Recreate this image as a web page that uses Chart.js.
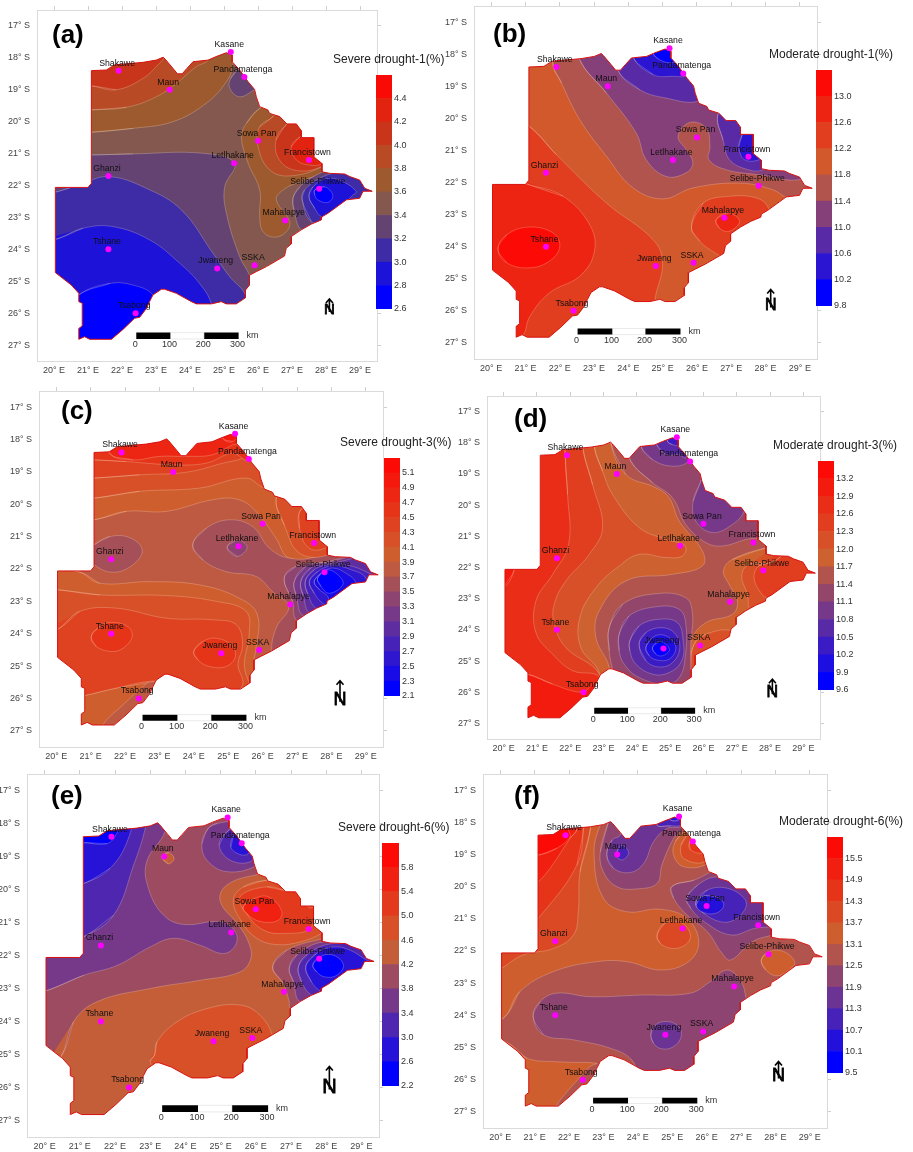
<!DOCTYPE html>
<html><head><meta charset="utf-8">
<script src="https://cdn.jsdelivr.net/npm/chart.js@4/dist/chart.umd.min.js"></script>
<style>html,body{margin:0;padding:0;background:#fff;width:913px;height:1152px;overflow:hidden}canvas{position:absolute;display:block;filter:blur(.3px)}</style>
</head><body>
<script>
const lonTicks=[20,21,22,23,24,25,26,27,28,29];
const latTicks=[-17,-18,-19,-20,-21,-22,-23,-24,-25,-26,-27];
const stationNames=['Kasane','Shakawe','Pandamatenga','Maun','Sowa Pan','Letlhakane','Francistown','Ghanzi','Selibe-Phikwe','Mahalapye','Tshane','Jwaneng','SSKA','Tsabong'];
const stationLon=[25.2,21.9,25.6,23.4,26.0,25.3,27.5,21.6,27.8,26.8,21.6,24.8,25.9,22.4];
const stationLat=[-17.82,-18.4,-18.6,-19.0,-20.6,-21.3,-21.2,-21.7,-22.1,-23.1,-24.0,-24.6,-24.5,-26.0];
const outline=[[21.10,-18.40],[21.54,-18.38],[21.78,-18.22],[22.62,-18.14],[23.01,-18.07],[23.21,-17.98],[23.27,-18.04],[23.50,-18.33],[23.63,-18.50],[23.77,-18.50],[23.91,-18.33],[24.09,-18.12],[24.53,-18.07],[24.77,-17.96],[25.07,-17.84],[25.24,-17.91],[25.24,-18.12],[25.46,-18.38],[25.71,-18.75],[25.90,-18.99],[25.95,-19.22],[26.05,-19.53],[26.29,-19.63],[26.34,-19.74],[26.64,-19.84],[26.85,-20.07],[27.13,-20.07],[27.27,-20.28],[27.27,-20.50],[27.64,-20.50],[27.64,-21.10],[27.88,-21.31],[27.88,-21.57],[28.11,-21.62],[28.55,-21.64],[28.70,-21.72],[28.99,-21.83],[29.14,-22.09],[29.36,-22.18],[29.09,-22.18],[28.99,-22.40],[28.60,-22.45],[28.06,-22.87],[27.88,-22.98],[27.86,-23.08],[27.57,-23.21],[27.27,-23.39],[26.98,-23.60],[26.98,-23.83],[26.83,-23.97],[26.78,-24.21],[26.25,-24.54],[25.95,-24.70],[25.75,-24.81],[25.75,-25.12],[25.63,-25.28],[25.63,-25.52],[25.36,-25.71],[25.07,-25.71],[24.92,-25.64],[24.63,-25.71],[24.19,-25.71],[24.04,-25.64],[23.60,-25.38],[23.25,-25.25],[23.16,-25.25],[22.91,-25.43],[22.81,-25.64],[22.72,-25.85],[22.52,-26.13],[22.37,-26.16],[22.03,-26.51],[21.69,-26.82],[21.05,-26.82],[20.90,-26.74],[20.73,-26.82],[20.73,-26.48],[20.83,-26.40],[20.83,-25.69],[20.73,-25.64],[20.73,-25.38],[20.51,-25.12],[20.04,-24.73],[20.04,-22.06],[21.00,-22.06],[21.10,-21.93]];

const legendA=[2.6,2.8,3.0,3.2,3.4,3.6,3.8,4.0,4.2,4.4,4.6];
const legendB=[9.8,10.2,10.6,11.0,11.4,11.8,12.2,12.6,13.0,13.4];
const legendC=[2.1,2.3,2.5,2.7,2.9,3.1,3.3,3.5,3.7,3.9,4.1,4.3,4.5,4.7,4.9,5.1,5.3];
const legendD=[9.6,9.9,10.2,10.5,10.8,11.1,11.4,11.7,12.0,12.3,12.6,12.9,13.2,13.5];
const legendE=[2.2,2.6,3.0,3.4,3.8,4.2,4.6,5.0,5.4,5.8,6.2];
const legendF=[9.5,10.1,10.7,11.3,11.9,12.5,13.1,13.7,14.3,14.9,15.5,16.1];

const regionsA=[[3,[[21.1,-21.04],[22.32,-21.01],[24.38,-20.99],[25.31,-21.3],[25.02,-22.04],[25.07,-22.87],[25.46,-24.23],[25.75,-24.81],[25.85,-25.28],[25.4,-26.2],[19.8,-27],[19.8,-21.04]]],
[2,[[19.9,-22.25],[20.75,-21.98],[21.59,-21.72],[22.72,-22.09],[23.75,-22.77],[24.68,-24.13],[25.17,-24.86],[25.63,-25.43],[25.7,-26.2],[19.8,-27],[19.8,-22.25]]],
[1,[[20.04,-23.69],[20.85,-23.34],[21.74,-23.29],[22.82,-23.71],[23.7,-24.44],[24.28,-25.07],[24.63,-25.71],[24.7,-26.5],[19.8,-27.2],[19.7,-23.69]]],
[0,[[20.73,-25.43],[21.64,-25.07],[22.32,-25.12],[22.91,-25.43],[23.2,-26.2],[22.0,-27.2],[20.5,-27.2],[20.4,-26]]],
[5,[[21.1,-20.33],[22.32,-20.21],[23.5,-20.0],[24.48,-19.42],[25.07,-18.75],[25.26,-18.27],[25.24,-17.91],[25.3,-17.5],[20.8,-17.5],[20.8,-20.33]]],
[6,[[21.1,-19.63],[22.13,-19.55],[23.01,-19.22],[23.6,-18.8],[24.19,-18.27],[24.53,-18.07],[24.6,-17.5],[20.8,-17.5],[20.8,-19.63]]],
[7,[[21.1,-18.88],[21.83,-19.0],[22.62,-18.64],[23.1,-18.17],[23.25,-17.96],[23.3,-17.5],[20.8,-17.5],[20.8,-18.88]]],
[3,[[25.46,-18.33],[25.2,-18.64],[25.17,-18.95],[25.46,-19.22],[25.9,-19.0],[26.1,-18.9],[25.8,-18.2]]],
[5,[[26.05,-19.58],[25.66,-20.05],[25.51,-20.47],[25.71,-21.3],[26.05,-22.14],[26.05,-22.98],[26.15,-23.45],[26.49,-23.62],[26.83,-23.45],[26.93,-23.13],[26.54,-22.45],[26.74,-22.14],[27.23,-21.88],[27.88,-21.62],[28.3,-21.3],[27.8,-20],[26.6,-19.3]]],
[6,[[26.44,-19.84],[26.05,-20.16],[26.0,-20.78],[26.34,-21.51],[26.93,-21.7],[27.88,-21.41],[28.2,-21],[27.8,-19.9],[26.7,-19.5]]],
[7,[[26.85,-20.07],[26.53,-20.57],[26.63,-21.2],[27.13,-21.53],[27.88,-21.4],[28.2,-21],[27.8,-20],[27.2,-19.8]]],
[8,[[27.27,-20.45],[26.98,-20.78],[27.13,-21.2],[27.52,-21.36],[27.88,-21.3],[28.1,-20.8],[27.7,-20.2]]],
[3,[[27.03,-22.4],[27.08,-22.87],[27.27,-23.39],[27.8,-23.6],[29.5,-22.6],[29.5,-21.4],[28.2,-21.5],[27.72,-21.67],[27.23,-22.04]]],
[2,[[27.3,-22.45],[27.57,-23.13],[28.1,-23.1],[29.5,-22.6],[29.5,-21.5],[28.3,-21.6],[27.81,-21.78],[27.37,-22.14]]],
[1,[[27.5,-22.35],[27.67,-22.72],[27.88,-22.98],[28.2,-22.9],[28.79,-22.3],[28.89,-22.19],[28.5,-21.88],[28.06,-21.78],[27.62,-22.04]]],
[0,[[27.67,-22.14],[27.96,-22.04],[28.2,-22.3],[28.06,-22.53],[27.76,-22.45],[27.67,-22.3]]]];

const regionsB=[[6,[[21.11,-20.25],[21.9,-21.13],[23.36,-22.64],[24.72,-23.78],[25.0,-24.5],[24.77,-25.7],[24.8,-26.5],[19.7,-27.2],[19.7,-20.25],[20.8,-20.2]]],
[7,[[20.98,-22.02],[22.1,-22.43],[22.9,-23.37],[23.0,-24.2],[22.58,-24.92],[21.7,-25.44],[21.13,-26.17],[20.93,-26.77],[20.5,-27.2],[19.6,-27],[19.7,-22],[20.8,-21.9]]],
[8,[[20.2,-24.07],[20.45,-23.63],[21.1,-23.39],[21.8,-23.57],[22.0,-24.0],[21.7,-24.45],[21.1,-24.66],[20.45,-24.5]]],
[4,[[21.8,-18.28],[22.05,-18.9],[22.58,-20.04],[23.36,-21.18],[24.14,-22.17],[25.01,-22.51],[25.88,-22.17],[27.24,-22.02],[28.2,-22.22],[28.7,-22.5],[29.5,-22.5],[29.5,-21.3],[28,-20],[26,-17.5],[22,-17.5]]],
[3,[[22.58,-18.17],[23.36,-19.21],[24.23,-20.46],[24.52,-21.29],[25.1,-21.81],[25.68,-21.7],[25.88,-21.39],[25.7,-21.0],[25.45,-20.56],[25.79,-20.13],[26.27,-20.3],[26.38,-20.87],[26.35,-21.29],[26.85,-21.6],[27.83,-21.76],[29.0,-21.91],[29.5,-21.5],[28,-19.8],[26.3,-17.5],[22.6,-17.5]]],
[2,[[23.7,-18.5],[24.33,-19.11],[25.1,-19.37],[26.03,-19.47],[26.5,-19],[26,-17.5],[23.7,-17.5]]],
[2,[[26.6,-19.94],[26.76,-20.67],[26.95,-21.29],[27.49,-21.6],[27.92,-21.6],[28.3,-21.2],[27.9,-20],[26.9,-19.6]]],
[1,[[24.14,-18.09],[24.72,-18.64],[25.3,-18.69],[25.74,-18.64],[26.2,-18],[25.5,-17.4],[24.2,-17.4]]],
[1,[[27.32,-20.51],[27.22,-20.87],[27.39,-21.29],[27.87,-21.27],[28.1,-21],[27.9,-20.3],[27.4,-20.2]]],
[0,[[24.72,-17.97],[24.9,-18.17],[25.3,-18.26],[25.5,-18],[25.2,-17.5],[24.7,-17.6]]],
[6,[[25.84,-23.37],[26.18,-22.64],[26.95,-22.43],[27.73,-22.48],[28.07,-22.76],[28.1,-23.3],[27,-24],[26.85,-24.35],[26.66,-24.28],[26.08,-23.83]]],
[7,[[26.56,-23.16],[26.9,-22.95],[27.24,-23.2],[26.95,-23.52],[26.65,-23.42]]]];

const regionsC=[[7,[[23.97,-21.25],[24.36,-20.74],[25.03,-20.48],[25.71,-20.69],[26.2,-21.36],[26.78,-21.66],[27.9,-21.56],[29.5,-21.3],[29.5,-22.4],[27.7,-24],[26.5,-25],[26.27,-24.6],[26.39,-23.83],[26.76,-23.16],[26.29,-22.7],[25.81,-22.23],[24.94,-22.08],[24.26,-21.72]]],
[7,[[21.11,-21.25],[21.55,-21.0],[22.13,-21.03],[22.5,-21.41],[22.23,-21.87],[21.65,-22.1],[21.11,-21.87],[20.9,-21.5]]],
[6,[[24.97,-21.33],[25.26,-21.1],[25.55,-21.33],[25.26,-21.61]]],
[9,[[21.11,-20.48],[22.03,-20.22],[23.2,-20.22],[24.55,-19.86],[25.32,-19.86],[25.85,-20.27],[26.39,-21.05],[26.78,-21.66],[27.9,-21.46],[28.4,-20.8],[28,-19.5],[26,-17.4],[20.8,-17.4],[20.8,-20.48]]],
[10,[[21.11,-19.81],[22.42,-19.6],[24.16,-19.5],[25.52,-19.19],[26.1,-19.5],[26.6,-19.2],[26,-17.4],[20.8,-17.4],[20.8,-19.81]]],
[11,[[21.11,-19.19],[22.42,-19.09],[23.78,-19.01],[24.84,-18.73],[25.52,-18.52],[26,-18],[25.5,-17.4],[20.8,-17.4],[20.8,-19.19]]],
[12,[[21.11,-18.63],[22.03,-18.68],[23.39,-18.78],[24.36,-18.73],[25.13,-18.42],[25.57,-18.63],[25.9,-18],[25.5,-17.4],[20.8,-17.4],[20.8,-18.63]]],
[13,[[21.55,-18.42],[22.23,-18.63],[23.0,-18.52],[23.78,-18.52],[24.55,-18.47],[25.13,-18.16],[25.32,-18.11],[25.5,-17.6],[21.5,-17.6]]],
[14,[[24.84,-17.96],[25.13,-18.06],[25.4,-17.6],[24.8,-17.6]]],
[10,[[26.39,-19.86],[26.63,-20.64],[27.07,-21.51],[27.9,-21.56],[28.3,-21],[27.8,-19.9],[26.7,-19.5]]],
[11,[[27.11,-20.17],[27.07,-20.74],[27.36,-21.36],[27.9,-21.31],[28.2,-20.8],[27.6,-20]]],
[6,[[26.63,-22.28],[26.97,-21.92],[27.89,-21.77],[29.5,-21.4],[29.5,-22.5],[27.5,-24],[26.97,-23.57],[26.87,-23.0]]],
[5,[[26.92,-22.39],[27.26,-21.92],[27.89,-21.79],[29.5,-21.5],[29.5,-22.4],[27.9,-23.6],[27.16,-23.42],[27.0,-22.9]]],
[4,[[27.11,-22.39],[27.4,-21.97],[28.03,-21.82],[29.5,-21.6],[29.5,-22.4],[28,-23.6],[27.36,-23.36],[27.2,-22.9]]],
[3,[[27.24,-22.39],[27.5,-22.02],[28.03,-21.85],[28.62,-21.92],[29.2,-22.18],[29.5,-22.3],[28.2,-23.5],[27.55,-23.21],[27.36,-22.9]]],
[2,[[27.36,-22.39],[27.6,-22.08],[28.03,-21.9],[28.52,-22.0],[29.0,-22.28],[29,-22.8],[28.2,-23.3],[27.74,-23.05],[27.5,-22.75]]],
[1,[[27.5,-22.39],[27.7,-22.13],[28.03,-21.97],[28.42,-22.13],[28.71,-22.44],[28.6,-23],[28,-23.2],[27.89,-22.84],[27.65,-22.64]]],
[0,[[27.6,-22.28],[27.89,-22.03],[28.23,-22.22],[28.33,-22.49],[27.94,-22.75],[27.7,-22.54]]],
[9,[[20.63,-22.08],[21.26,-22.44],[22.71,-22.39],[24.16,-22.49],[25.32,-22.9],[25.85,-23.42],[25.8,-24.55],[25.76,-24.81],[26.1,-25.7],[24,-26],[23.2,-25.5],[22.9,-25.37],[22.52,-25.64],[21.94,-26.2],[21.36,-26.81],[21.3,-27.2],[20.2,-27.2],[19.7,-25],[19.7,-22.08]]],
[10,[[20.02,-22.64],[21.26,-22.8],[23.2,-22.82],[24.65,-23.0],[25.52,-23.31],[25.61,-24.03],[25.47,-24.96],[25.63,-25.58],[25.8,-26],[24,-26],[23.1,-25.3],[22.86,-25.46],[21.74,-25.68],[20.82,-25.91],[20.3,-26],[19.7,-25],[19.7,-22.64]]],
[11,[[20.02,-23.88],[20.68,-23.31],[21.74,-23.21],[23.2,-23.52],[24.55,-23.57],[25.23,-23.72],[25.42,-24.34],[25.28,-24.96],[25.43,-25.48],[25.32,-25.73],[24.5,-26.2],[23.2,-25.6],[22.86,-25.46],[21.74,-25.68],[20.82,-25.91],[20.3,-26],[19.7,-25],[19.7,-23.88]]],
[12,[[21.02,-24.09],[21.26,-23.78],[21.6,-23.65],[22.08,-23.78],[22.21,-24.09],[21.94,-24.45],[21.6,-24.55],[21.16,-24.39]]],
[12,[[24.0,-24.55],[24.26,-24.24],[24.65,-24.14],[25.08,-24.34],[25.21,-24.7],[24.94,-25.01],[24.45,-25.01],[24.12,-24.81]]]];

const regionsD=[[11,[[20.72,-25.42],[21.47,-25.74],[22.37,-26.0],[22.72,-25.74],[22.7,-27.2],[20,-27.2],[20.3,-25.4]]],
[11,[[20.32,-22.06],[20.02,-22.59],[19.7,-22],[20.2,-21.8]]],
[9,[[21.85,-18.43],[21.92,-19.66],[21.95,-21.26],[21.47,-22.22],[20.97,-23.07],[20.97,-24.09],[21.47,-24.78],[22.07,-25.31],[22.87,-25.53],[23,-27],[29.5,-27],[29.5,-17],[21.85,-17]]],
[8,[[22.37,-18.11],[22.67,-19.34],[22.97,-20.72],[22.57,-21.58],[21.87,-22.43],[21.52,-23.18],[21.52,-23.82],[21.87,-24.57],[22.87,-25.42],[23.2,-27],[29.5,-27],[29.5,-17],[22.37,-17]]],
[7,[[22.72,-18.11],[22.97,-18.91],[23.27,-19.66],[24.07,-20.72],[24.87,-21.1],[25.45,-21.31],[25.37,-21.63],[24.87,-21.68],[24.07,-21.58],[23.47,-21.95],[22.77,-22.65],[22.29,-23.6],[22.32,-24.57],[22.87,-25.37],[23,-27],[29.5,-27],[29.5,-17],[22.72,-17]]],
[6,[[23.22,-18.0],[23.67,-19.02],[24.57,-19.44],[24.97,-19.76],[25.27,-20.51],[25.97,-21.47],[25.97,-21.95],[25.07,-22.22],[23.67,-22.43],[22.87,-23.39],[22.77,-24.25],[23.17,-25.21],[23.3,-27],[29.5,-27],[29.5,-17],[23.22,-17]]],
[5,[[23.82,-18.59],[24.47,-19.28],[25.07,-19.76],[25.47,-20.62],[26.07,-21.2],[26.57,-21.31],[27.27,-21.1],[27.92,-20.94],[28.2,-20],[26,-17.3],[24,-17.3],[23.8,-18]]],
[4,[[24.12,-18.11],[24.47,-18.54],[25.07,-18.75],[25.57,-18.59],[25.9,-18],[25,-17.4],[24.2,-17.7]]],
[3,[[24.57,-18.0],[24.87,-18.38],[25.27,-18.38],[25.47,-18.48],[25.6,-17.8],[25,-17.5],[24.6,-17.7]]],
[2,[[24.92,-17.95],[25.07,-18.06],[25.27,-18.06],[25.4,-17.6],[25,-17.5]]],
[4,[[25.92,-19.23],[25.69,-19.87],[25.77,-20.51],[26.27,-20.88],[26.87,-20.62],[27.22,-20.19],[27.2,-19.7],[26,-18.9]]],
[7,[[27.92,-21.36],[26.87,-21.74],[26.6,-22.11],[26.77,-22.54],[27.02,-23.07],[26.87,-23.5],[26.07,-23.77],[25.62,-24.35],[25.62,-25.0],[25.6,-25.5],[26,-26],[29.5,-25],[29.5,-21]]],
[8,[[25.72,-24.46],[26.07,-24.14],[26.87,-24.03],[27.3,-24.5],[26,-25.2],[25.6,-25.3]]],
[8,[[28.17,-21.79],[27.37,-21.9],[27.15,-22.27],[27.32,-22.86],[27.42,-23.39],[28,-23.7],[29.5,-23],[29.5,-21.3],[28.2,-21.3]]],
[9,[[28.22,-21.74],[27.67,-21.95],[27.52,-22.33],[27.72,-22.81],[27.92,-22.97],[28.6,-23],[29.5,-22.5],[29.5,-21.4],[28.6,-21.3]]],
[5,[[23.17,-23.93],[23.57,-23.18],[24.57,-22.84],[25.47,-22.97],[25.67,-23.5],[25.62,-24.46],[25.62,-25.53],[25.6,-26.2],[23.5,-26.2],[23.27,-25.26],[23.17,-24.67]]],
[4,[[23.47,-24.14],[23.77,-23.55],[24.57,-23.26],[25.27,-23.34],[25.47,-23.82],[25.45,-24.89],[25.27,-25.53],[24.87,-25.74],[24.07,-25.53],[23.62,-25.1],[23.47,-24.67]]],
[3,[[23.79,-24.35],[24.07,-23.87],[24.67,-23.66],[25.22,-23.77],[25.39,-24.35],[25.35,-24.99],[24.97,-25.37],[24.47,-25.42],[23.97,-25.1],[23.79,-24.67]]],
[2,[[24.07,-24.46],[24.27,-24.09],[24.72,-23.93],[25.12,-24.09],[25.29,-24.57],[25.07,-25.05],[24.67,-25.19],[24.27,-24.99]]],
[1,[[24.27,-24.57],[24.47,-24.25],[24.77,-24.16],[25.07,-24.35],[25.17,-24.62],[24.97,-24.94],[24.62,-24.97],[24.37,-24.83]]],
[0,[[24.47,-24.57],[24.67,-24.37],[24.92,-24.51],[24.97,-24.67],[24.77,-24.83],[24.57,-24.78]]]];

const regionsE=[[3,[[19.95,-23.1],[21.11,-22.6],[22.06,-22.3],[23.0,-21.74],[23.66,-21.48],[24.42,-21.69],[25.08,-21.94],[25.42,-21.69],[25.42,-21.28],[25.0,-20.98],[23.95,-21.06],[23.38,-20.78],[22.95,-19.97],[22.9,-19.16],[23.42,-18.25],[23.5,-17.5],[19.6,-17.5],[19.6,-23.1]]],
[2,[[21.11,-21.43],[21.96,-20.78],[22.53,-19.26],[22.88,-18.05],[22.9,-17.5],[20.8,-17.5],[20.8,-21.43]]],
[1,[[21.11,-19.82],[21.86,-19.36],[22.38,-18.45],[22.4,-17.8],[20.8,-17.8],[20.8,-19.82]]],
[0,[[21.11,-18.58],[21.77,-18.61],[22.05,-18.3],[22.1,-18],[20.8,-18],[20.8,-18.58]]],
[3,[[24.65,-18.15],[24.47,-18.61],[24.61,-19.11],[25.18,-19.46],[26.03,-19.26],[26.2,-18.8],[25.4,-18],[24.9,-18]]],
[2,[[25.18,-18.25],[24.96,-18.66],[25.27,-19.11],[25.84,-19.16],[26,-18.8],[25.5,-18.1]]],
[1,[[25.41,-18.3],[25.29,-18.71],[25.55,-18.94],[25.79,-18.91],[25.9,-18.6],[25.6,-18.2]]],
[5,[[23.33,-19.01],[23.52,-18.88],[23.68,-19.06],[23.52,-19.22]]],
[5,[[20.46,-25.07],[20.82,-24.01],[21.49,-23.4],[23.0,-23.0],[24.42,-22.75],[25.55,-22.5],[25.86,-22.09],[25.79,-21.59],[25.51,-21.08],[24.99,-20.36],[25.17,-19.87],[26.03,-19.55],[26.7,-19.5],[28.2,-20.5],[28.2,-21.4],[28,-23],[27.2,-25],[25,-26.5],[22,-27.3],[20.2,-27.3],[20,-26],[20.1,-25.2]]],
[4,[[26.48,-22.34],[26.88,-21.84],[27.87,-21.5],[28.5,-21.4],[29.5,-21.7],[29.5,-22.6],[28,-23.4],[27.3,-24],[26.97,-23.61],[26.95,-23.4],[26.78,-22.85]]],
[3,[[26.95,-22.39],[27.16,-21.99],[27.92,-21.59],[29.5,-21.7],[29.5,-22.6],[28,-23.3],[27.26,-23.4],[27.07,-22.8]]],
[2,[[27.21,-22.34],[27.49,-21.94],[28.2,-21.64],[29.5,-21.8],[29.5,-22.5],[28,-23.2],[27.59,-23.2],[27.3,-22.8]]],
[1,[[27.42,-22.34],[27.72,-21.94],[28.2,-21.74],[28.68,-21.84],[29.15,-22.14],[29.5,-22.3],[28.8,-22.8],[28.1,-23.1],[27.87,-23.1],[27.58,-22.8]]],
[0,[[27.62,-22.29],[27.82,-22.04],[28.2,-21.99],[28.49,-22.29],[28.3,-22.6],[27.97,-22.65],[27.73,-22.5]]],
[6,[[26.31,-19.72],[25.65,-19.92],[25.36,-20.32],[25.6,-20.98],[26.03,-21.48],[26.59,-21.67],[27.26,-21.59],[27.87,-21.33],[28.3,-21],[28,-20],[27.1,-19.7]]],
[7,[[27.07,-20.05],[26.31,-19.92],[25.55,-20.22],[25.7,-20.68],[26.22,-21.23],[26.88,-21.33],[27.54,-21.18],[27.65,-20.58],[27.49,-20.53],[27.4,-19.9]]],
[8,[[25.64,-20.53],[25.97,-20.27],[26.35,-20.22],[26.73,-20.63],[26.64,-20.93],[26.17,-20.98],[25.79,-20.78]]],
[6,[[23.12,-25.02],[23.19,-24.62],[23.76,-24.01],[24.61,-23.61],[25.55,-23.5],[26.12,-23.81],[26.48,-24.46],[26.5,-25.2],[25.5,-26.3],[24,-26.3],[23.2,-25.6],[23,-25.2]]]];

const regionsF=[[6,[[20.09,-24.09],[20.57,-23.26],[21.55,-22.64],[22.81,-22.33],[23.68,-22.33],[24.66,-22.59],[25.48,-22.33],[25.77,-21.71],[25.43,-20.99],[24.65,-20.7],[23.68,-20.78],[23.0,-20.36],[22.73,-19.02],[22.91,-18.09],[23.15,-17.93],[23.1,-17.5],[19.6,-17.5],[19.6,-24.09]]],
[6,[[20.14,-24.82],[20.77,-25.33],[21.64,-25.44],[22.81,-25.49],[22.61,-25.59],[22.22,-26.04],[21.92,-26.4],[21.64,-26.8],[21.5,-27.2],[20.4,-27.2],[19.9,-25]]],
[7,[[22.63,-18.14],[22.32,-19.54],[22.27,-20.78],[22.13,-21.5],[21.55,-21.92],[20.67,-22.12],[20.04,-22.54],[19.6,-22.8],[19.6,-17.5],[22.6,-17.5]]],
[8,[[22.42,-18.19],[22.23,-19.33],[21.11,-20.98],[20.8,-21.2],[20.8,-17.6],[22.4,-17.6]]],
[9,[[22.24,-18.19],[22.03,-18.5],[21.45,-19.43],[21.11,-19.85],[20.8,-20.1],[20.8,-17.7],[22.2,-17.7]]],
[10,[[21.11,-19.02],[21.64,-18.81],[22.03,-18.45],[21.98,-18.24],[21.9,-17.9],[20.8,-17.9],[20.8,-19.02]]],
[7,[[24.56,-21.52],[24.75,-21.17],[25.24,-21.11],[25.53,-21.5],[25.38,-21.81],[24.99,-21.92],[24.65,-21.76]]],
[4,[[23.15,-17.98],[22.91,-18.92],[23.0,-19.54],[23.39,-20.0],[23.97,-20.07],[24.56,-19.9],[24.7,-19.33],[25.04,-18.5],[25.29,-18.19],[25.5,-17.5],[23.3,-17.5]]],
[3,[[23.1,-19.02],[23.29,-19.43],[23.78,-19.56],[24.17,-19.28],[24.46,-18.6],[24.85,-18.19],[25.29,-18.11],[25.5,-17.6],[23.6,-17.6],[23.4,-18],[23.49,-18.4],[23.25,-18.55]]],
[2,[[23.39,-18.92],[23.54,-18.71],[23.73,-18.92],[23.68,-19.07],[23.54,-19.17],[23.39,-19.07]]],
[2,[[24.56,-18.09],[24.95,-18.11],[25.26,-18.07],[25.3,-17.7],[24.8,-17.7]]],
[1,[[24.95,-17.93],[25.19,-17.93],[25.2,-17.7],[24.95,-17.7]]],
[6,[[25.38,-18.24],[25.09,-18.6],[25.04,-19.02],[25.33,-19.38],[26.02,-19.28],[26.2,-18.7],[25.6,-18]]],
[7,[[25.48,-18.35],[25.26,-18.71],[25.33,-19.12],[25.92,-19.23],[26,-18.7],[25.7,-18.2]]],
[8,[[25.51,-18.6],[25.53,-18.86],[25.92,-18.94],[25.95,-18.6],[25.7,-18.4]]],
[4,[[24.99,-20.0],[25.63,-19.8],[26.4,-19.5],[27.4,-19.9],[28.2,-20.6],[28.2,-21.4],[27.91,-21.5],[27.33,-21.71],[26.7,-22.28],[26.45,-22.07],[26.02,-21.4],[25.43,-20.88],[25.04,-20.36]]],
[3,[[25.42,-20.36],[25.74,-19.95],[26.31,-19.7],[27.28,-20.0],[27.8,-20.4],[28.0,-21.14],[27.38,-21.3],[26.7,-21.5],[25.93,-21.09],[25.54,-20.67]]],
[2,[[25.68,-20.52],[26.02,-20.11],[26.6,-20.05],[27.09,-20.36],[27.13,-20.67],[26.79,-21.04],[26.4,-21.09],[25.92,-20.83]]],
[1,[[25.86,-20.31],[26.26,-20.31],[26.5,-20.57],[26.26,-20.83],[25.86,-20.78],[25.7,-20.57]]],
[4,[[20.96,-24.04],[21.16,-23.57],[21.64,-23.31],[22.62,-23.42],[24.07,-23.37],[25.53,-23.31],[26.11,-22.95],[26.6,-22.59],[27.0,-22.95],[27.15,-23.47],[27.3,-24.2],[26,-25.2],[25.7,-26.2],[24.2,-26.2],[23.83,-25.39],[23.2,-25.02],[22.13,-24.76],[21.25,-24.6]]],
[3,[[24.38,-24.59],[24.51,-24.3],[24.85,-24.19],[25.19,-24.35],[25.26,-24.66],[25.04,-24.97],[24.7,-25.04],[24.46,-24.87]]],
[6,[[27.59,-22.28],[27.81,-22.02],[28.25,-22.02],[28.56,-22.33],[28.45,-22.54],[28.06,-22.77],[27.72,-22.59]]]];

const scaleLonA=[22.42,23.43,24.42,25.43], scaleLatA=[-26.61,-26.81];
const scaleLonB=[22.52,23.54,24.5,25.52], scaleLatB=[-26.55,-26.74];
const scaleLonC=[22.51,23.53,24.51,25.53], scaleLatC=[-26.5,-26.69];
const scaleLonD=[22.72,23.74,24.73,25.75], scaleLatD=[-26.5,-26.69];
const scaleLonE=[23.34,24.36,25.33,26.35], scaleLatE=[-26.54,-26.74];
const scaleLonF=[22.7,23.72,24.71,25.73], scaleLatF=[-26.56,-26.74];
const scaleLabels=['0','100','200','300'];

function ramp(n){const A=[0,0,255],B=[205,98,48],C=[252,10,5],m=.58,o=[];
 for(let i=0;i<n;i++){const t=i/(n-1);let c;
  if(t<m){const u=t/m;c=A.map((a,k)=>Math.round(a+(B[k]-a)*u));}
  else{const u=(t-m)/(1-m);c=B.map((b,k)=>Math.round(b+(C[k]-b)*u));}
  o.push(`rgb(${c.join(',')})`);}
 return o;}
const paletteA=['#0000ff','#1d12d8','#3d2ca5','#644373','#85584f','#9c5a2e','#b84a25','#c9351b','#e2230f','#fa0a05'];

const panels=[
 {letter:'(a)',lx:52,ly:36,title:'Severe drought-1(%)',tx:333,ty:60,f:[37.3,377,10,361],cb:[376,392,75,308.7],legend:legendA,base:4,regions:regionsA,pal:paletteA,sl:scaleLonA,sv:scaleLatA,n:[28.1,-25.9,15,11]},
 {letter:'(b)',lx:493,ly:35,title:'Moderate drought-1(%)',tx:769,ty:55,f:[474.3,817.3,6,359.3],cb:[816,832,70,305.7],legend:legendB,base:5,regions:regionsB,pal:ramp(9),sl:scaleLonB,sv:scaleLatB,n:[28.15,-25.83,16,16]},
 {letter:'(c)',lx:61,ly:412,title:'Severe drought-3(%)',tx:340,ty:443,f:[39.3,383.3,391,747.3],cb:[384,400,458,695.7],legend:legendC,base:8,regions:regionsC,pal:ramp(16),sl:scaleLonC,sv:scaleLatC,n:[28.25,-26.04,18,19]},
 {letter:'(d)',lx:514,ly:420,title:'Moderate drought-3(%)',tx:772.7,ty:446,f:[487.3,820.3,396.3,739.3],cb:[818,834,461,689.7],legend:legendD,base:10,regions:regionsD,pal:ramp(13),sl:scaleLonD,sv:scaleLatD,n:[28.07,-26,16,13]},
 {letter:'(e)',lx:51,ly:797,title:'Severe drought-6(%)',tx:338,ty:828,f:[27.3,379.3,774.3,1137.3],cb:[382,399,843,1085.7],legend:legendE,base:4,regions:regionsE,pal:ramp(10),sl:scaleLonE,sv:scaleLatE,n:[28.09,-26,20,21]},
 {letter:'(f)',lx:514,ly:797,title:'Moderate drought-6(%)',tx:779,ty:821.7,f:[483.3,826.7,774.3,1128.3],cb:[827,843,836.7,1073],legend:legendF,base:5,regions:regionsF,pal:ramp(11),sl:scaleLonF,sv:scaleLatF,n:[28.09,-25.9,18,15]}
];
const FONT='"Liberation Sans", Arial, sans-serif';
const M={L:38,R:8,T:8,B:24};
Chart.defaults.animation=false;

function mk(left,top,w,h){const c=document.createElement('canvas');c.width=w;c.height=h;c.style.left=left+'px';c.style.top=top+'px';c.style.width=w+'px';c.style.height=h+'px';document.body.appendChild(c);return c;}
const xy=p=>({x:p[0],y:p[1]});
function wrap(pts){const n=pts.length;return [pts[n-1],...pts,pts[0],pts[1]].map(xy);}
function poly(data,bg,line,tension){return {type:'line',data,fill:'shape',backgroundColor:bg,borderColor:line||'transparent',borderWidth:line?.55:0,pointRadius:0,tension:tension||0};}
function noPad(s){s.paddingTop=0;s.paddingBottom=0;s.paddingLeft=0;s.paddingRight=0;}

panels.forEach(p=>{
 const [l,r,t,b]=p.f.map(Math.round);
 const W=r-l,H=b-t;
 const cv=mk(l-M.L,t-M.T,W+M.L+M.R,H+M.T+M.B);
 const ds=[];
 ds.push(poly(outline.map(xy),p.pal[p.base]));
 p.regions.forEach(rg=>ds.push(poly(wrap(rg[1]),p.pal[rg[0]],'rgba(255,235,215,.45)',.4)));
 const rect=[[19.5,-16.5],[29.5,-16.5],[29.5,-27.5],[19.5,-27.5],[19.5,-16.5]];
 const rev=[...outline].reverse();
 ds.push(poly([...rect,...rev,rev[0],rect[0]].map(xy),'#ffffff'));
 ds.push({type:'line',data:[...outline,outline[0]].map(xy),fill:false,borderColor:'#d8110f',borderWidth:1,pointRadius:0,tension:0});
 const sl=p.sl,sv=p.sv;
 const seg=(a,b)=>[[a,sv[0]],[b,sv[0]],[b,sv[1]],[a,sv[1]]].map(xy);
 ds.push(poly(seg(sl[0],sl[1]),'#000000'));
 ds.push(poly(seg(sl[1],sl[2]),'#ffffff','#d8d8d8'));
 ds.push(poly(seg(sl[2],sl[3]),'#000000'));
 ds.push({type:'line',data:stationLon.map((v,i)=>({x:v,y:stationLat[i]})),showLine:false,pointRadius:3,pointBackgroundColor:'#ff00ff',pointBorderColor:'#ff00ff',pointBorderWidth:0});
 ds.forEach((d,i)=>d.order=ds.length-i);
 const gx=(id,pos,showLab)=>({type:'linear',position:pos,min:19.5,max:29.5,
   afterBuildTicks:s=>{s.ticks=lonTicks.map(v=>({value:v}));},
   afterFit:s=>{s.height=pos==='top'?M.T:M.B;noPad(s);},
   border:{display:true,color:'#dadada',z:5},
   grid:{drawOnChartArea:false,drawTicks:!showLab,tickLength:4,color:'#cfcfcf'},
   ticks:{display:showLab,autoSkip:false,maxRotation:0,padding:4,color:'#444',font:{family:FONT,size:9},callback:v=>v+'° E'}});
 const gy=(id,pos,showLab)=>({type:'linear',position:pos,min:-27.5,max:-16.5,
   afterBuildTicks:s=>{s.ticks=latTicks.map(v=>({value:v}));},
   afterFit:s=>{s.width=pos==='left'?M.L:M.R;noPad(s);},
   border:{display:true,color:'#dadada',z:5},
   grid:{drawOnChartArea:false,drawTicks:!showLab,tickLength:4,color:'#cfcfcf'},
   ticks:{display:showLab,autoSkip:false,padding:7,color:'#444',font:{family:FONT,size:9},callback:v=>(-v)+'° S'}});
 const notes={id:'notes',afterDraw(ch){
   const c=ch.ctx,X=ch.scales.x,Y=ch.scales.y;
   c.save();c.textBaseline='middle';
   c.fillStyle='#111';c.font='8.7px '+FONT;c.textAlign='center';
   stationNames.forEach((s,i)=>c.fillText(s,X.getPixelForValue(stationLon[i])-1.5,Y.getPixelForValue(stationLat[i])-7.5));
   c.font='9px '+FONT;c.fillStyle='#333';
   const by=Y.getPixelForValue(sv[1]);
   scaleLabels.forEach((s,i)=>c.fillText(s,X.getPixelForValue(sl[i])-1,by+5.5));
   c.textAlign='left';c.fillText('km',X.getPixelForValue(sl[3])+8,(Y.getPixelForValue(sv[0])+by)/2);
   c.fillStyle='#000';c.font='bold 26px '+FONT;
   c.fillText(p.letter,p.lx-(l-M.L),p.ly-(t-M.T));
   const nx=X.getPixelForValue(p.n[0]),ny=Y.getPixelForValue(p.n[1]);
   c.textAlign='center';c.font=p.n[2]+'px '+FONT;c.lineWidth=.8;c.strokeStyle='#000';
   c.fillText('N',nx,ny);c.strokeText('N',nx,ny);
   c.lineWidth=1.6;c.beginPath();c.moveTo(nx,ny+2);c.lineTo(nx,ny-p.n[3]);
   c.moveTo(nx-3.5,ny-p.n[3]+4);c.lineTo(nx,ny-p.n[3]);c.lineTo(nx+3.5,ny-p.n[3]+4);c.stroke();
   c.restore();
 }};
 new Chart(cv,{type:'line',data:{datasets:ds},plugins:[notes],options:{responsive:false,animation:false,
   layout:{padding:0},plugins:{legend:{display:false},tooltip:{enabled:false},title:{display:false}},
   scales:{x:gx('x','bottom',true),y:gy('y','left',true),x2:gx('x2','top',false),y2:gy('y2','right',false)}}});

 const [cl,cr,ct,cb]=p.cb.map(Math.round);
 const leg=p.legend;
 const tx=Math.round(p.tx),top=Math.round(p.ty)-9;
 const axisW=26;
 const cw=Math.max(cr+axisW,tx+132)-tx;
 const cc=mk(tx,top,cw,cb+8-top);
 const bars=leg.slice(0,-1).map((v,i)=>({data:[[v,leg[i+1]]],backgroundColor:p.pal[i],grouped:false,barPercentage:1,categoryPercentage:1,borderWidth:0}));
 const ttl={id:'ttl',afterDraw(ch){const c=ch.ctx;c.save();c.fillStyle='#222';c.font='12px '+FONT;c.textBaseline='middle';c.textAlign='left';c.fillText(p.title,0,p.ty-top);c.restore();}};
 new Chart(cc,{type:'bar',data:{labels:[''],datasets:bars},plugins:[ttl],options:{responsive:false,animation:false,
   layout:{padding:{left:cl-tx,top:ct-top,bottom:8,right:cw-(cr-tx)-axisW}},
   plugins:{legend:{display:false},tooltip:{enabled:false},title:{display:false}},
   scales:{x:{display:false},y:{type:'linear',position:'right',min:leg[0],max:leg[leg.length-1],
     afterBuildTicks:s=>{s.ticks=leg.slice(0,-1).map(v=>({value:v}));},
     afterFit:s=>{s.width=axisW;noPad(s);},
     border:{display:false},grid:{display:false,drawTicks:false},
     ticks:{autoSkip:false,padding:2,color:'#333',font:{family:FONT,size:9},callback:v=>v.toFixed(1)}}}}});
});
</script>
</body></html>
